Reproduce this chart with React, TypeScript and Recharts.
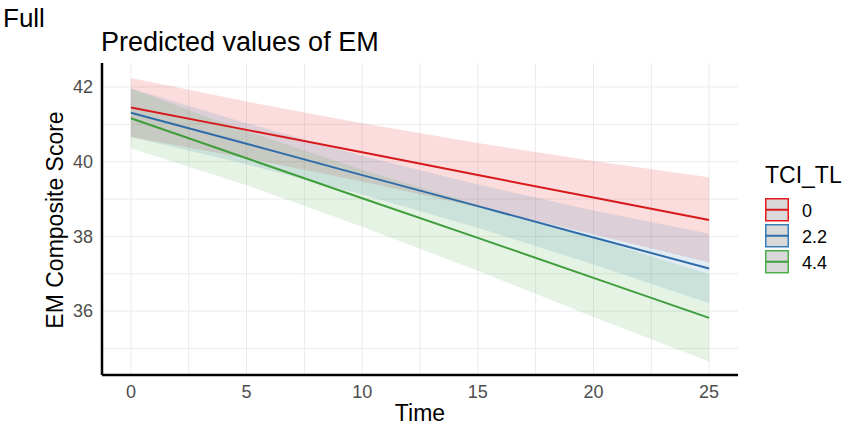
import React from "react";
import {
  ComposedChart,
  Area,
  Line,
  XAxis,
  YAxis,
  CartesianGrid,
} from "recharts";

// ---- data ----
const times = [0, 5, 10, 15, 20, 25];
const groups = ["0", "2.2", "4.4"];
const colors = ["#E41A1C", "#377EB8", "#4DAF4A"];
const lineColors = ["#D7191C", "#2F6CA8", "#3F9E3B"];

const fit0 = [41.45, 40.85, 40.25, 39.64, 39.04, 38.44];
const low0 = [40.66, 40.09, 39.47, 38.78, 38.06, 37.3];
const high0 = [42.24, 41.61, 41.03, 40.5, 40.02, 39.58];

const fit22 = [41.31, 40.48, 39.64, 38.81, 37.97, 37.14];
const low22 = [40.66, 39.93, 39.12, 38.23, 37.25, 36.21];
const high22 = [41.96, 41.03, 40.16, 39.39, 38.69, 38.07];

const fit44 = [41.16, 40.09, 39.02, 37.96, 36.89, 35.82];
const low44 = [40.36, 39.37, 38.26, 37.08, 35.84, 34.65];
const high44 = [41.96, 40.81, 39.78, 38.84, 37.94, 36.99];

const xTicks = [0, 5, 10, 15, 20, 25];
const xGrid = [0, 2.5, 5, 7.5, 10, 12.5, 15, 17.5, 20, 22.5, 25];
const yTicks = [36, 38, 40, 42];
const yGrid = [35, 36, 37, 38, 39, 40, 41, 42];

const data = times.map((t, i) => ({
  t,
  f0: fit0[i],
  r0: [low0[i], high0[i]],
  f1: fit22[i],
  r1: [low22[i], high22[i]],
  f2: fit44[i],
  r2: [low44[i], high44[i]],
}));

const FONT = "'Liberation Sans', Arial, sans-serif";

const LegendBox = () => (
  <svg
    width={90}
    height={130}
    style={{ position: "absolute", left: 760, top: 160, fontFamily: FONT, overflow: "visible" }}
  >
    <text x={5} y={23} fontSize={23} fill="#000">
      TCI_TL
    </text>
    {groups.map((g, i) => {
      const y = 38 + i * 26;
      return (
        <g key={g}>
          <rect x={5.75} y={y + 0.75} width={22.5} height={22} fill="#D9D9D9" stroke={colors[i]} strokeWidth={1.5} />
          <line x1={6} x2={28} y1={y + 11.75} y2={y + 11.75} stroke={lineColors[i]} strokeWidth={2} />
          <text x={42} y={y + 19} fontSize={18} fill="#000">
            {g}
          </text>
        </g>
      );
    })}
  </svg>
);

export default function App() {
  return (
    <div
      style={{
        position: "absolute",
        left: 0,
        top: 0,
        width: 847,
        height: 428,
        background: "#fff",
        fontFamily: FONT,
      }}
    >
      <ComposedChart
        width={847}
        height={428}
        data={data}
        margin={{ top: 63, right: 109, bottom: 0, left: 0 }}
      >
        <CartesianGrid
          stroke="#EBEBEB"
          strokeWidth={1}
          horizontalValues={yGrid}
          verticalValues={xGrid}
        />
        <XAxis
          dataKey="t"
          type="number"
          domain={[-1.25, 26.25]}
          ticks={xTicks}
          allowDataOverflow
          height={53}
          tickLine={false}
          tickMargin={4}
          axisLine={{ stroke: "#000", strokeWidth: 2.5 }}
          tick={{ fontSize: 18, fill: "#4D4D4D", fontFamily: FONT }}
        />
        <YAxis
          type="number"
          domain={[34.29, 42.64]}
          ticks={yTicks}
          allowDataOverflow
          width={102}
          tickLine={false}
          tickMargin={3}
          axisLine={{ stroke: "#000", strokeWidth: 2.5 }}
          tick={{ fontSize: 18, fill: "#4D4D4D", fontFamily: FONT }}
        />
        <Area dataKey="r0" type="linear" stroke="none" fill={colors[0]} fillOpacity={0.15} isAnimationActive={false} />
        <Area dataKey="r1" type="linear" stroke="none" fill={colors[1]} fillOpacity={0.15} isAnimationActive={false} />
        <Area dataKey="r2" type="linear" stroke="none" fill={colors[2]} fillOpacity={0.15} isAnimationActive={false} />
        <Line dataKey="f0" type="linear" stroke={lineColors[0]} strokeWidth={2} dot={false} isAnimationActive={false} />
        <Line dataKey="f1" type="linear" stroke={lineColors[1]} strokeWidth={2} dot={false} isAnimationActive={false} />
        <Line dataKey="f2" type="linear" stroke={lineColors[2]} strokeWidth={2} dot={false} isAnimationActive={false} />
      </ComposedChart>
      <LegendBox />
      <svg
        width={847}
        height={428}
        style={{ position: "absolute", left: 0, top: 0, pointerEvents: "none", fontFamily: FONT }}
      >
        <text x={3} y={27} fontSize={26} fill="#000">
          Full
        </text>
        <text x={101} y={51} fontSize={27} fill="#000">
          Predicted values of EM
        </text>
        <text x={420} y={421} fontSize={23} fill="#000" textAnchor="middle">
          Time
        </text>
        <text
          x={63}
          y={220}
          fontSize={23}
          fill="#000"
          textAnchor="middle"
          transform="rotate(-90 63 220)"
        >
          EM Composite Score
        </text>
      </svg>
    </div>
  );
}
